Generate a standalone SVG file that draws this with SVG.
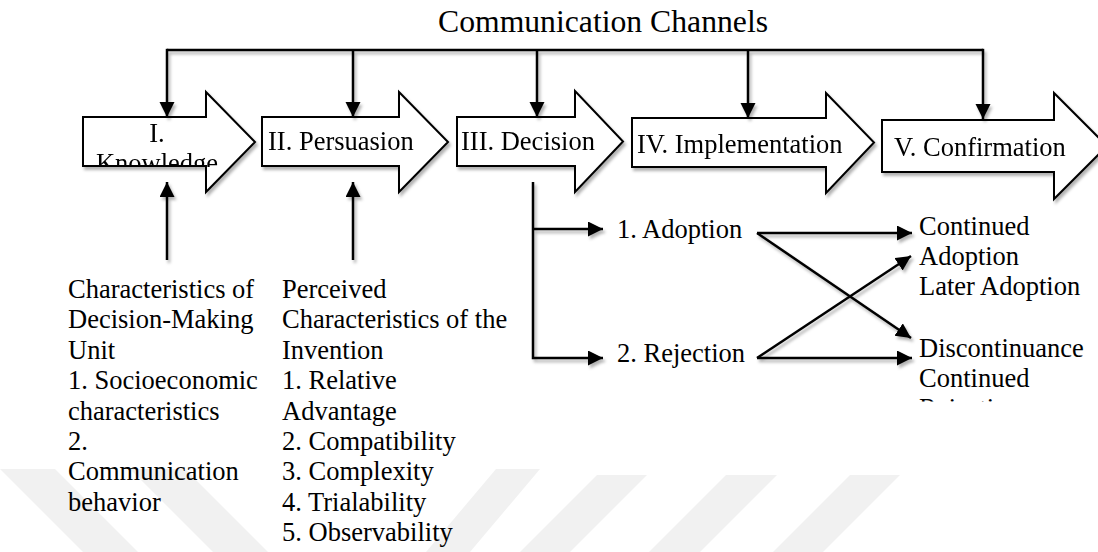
<svg xmlns="http://www.w3.org/2000/svg" width="1098" height="552" viewBox="0 0 1098 552">
<style>
.t{font-family:"Liberation Serif","Times New Roman",serif;font-size:26.5px;fill:#000}
.title{font-family:"Liberation Serif","Times New Roman",serif;font-size:31.7px;fill:#000}
.stage{fill:#fff;stroke:#000;stroke-width:2}
.wm{fill:#f1f1f1}
.c{fill:none;stroke:#000;stroke-width:2.5}
</style>
<defs>
<filter id="sh" x="-10%" y="-10%" width="130%" height="140%">
<feDropShadow dx="2" dy="3" stdDeviation="1.6" flood-color="#000" flood-opacity="0.3"/>
</filter>
<marker id="ah" markerUnits="userSpaceOnUse" markerWidth="16" markerHeight="16" refX="15" refY="7.5" orient="auto">
<path d="M0,0 L15,7.5 L0,15 z" fill="#000"/>
</marker>
<clipPath id="clipK"><rect x="83" y="92" width="175" height="75"/></clipPath>
<clipPath id="clipR"><rect x="900" y="372" width="198" height="29.5"/></clipPath>
</defs>
<rect width="1098" height="552" fill="#fff"/>
<g id="watermark">
<polygon class="wm" points="0,469 55,469 138,552 83,552"/>
<polygon class="wm" points="130,469 185,469 268,552 213,552"/>
<polygon class="wm" points="496,469 540,469 470,552 426,552"/>
<polygon class="wm" points="597,475 647,475 570,552 520,552"/>
<polygon class="wm" points="726,475 777,475 700,552 649,552"/>
<polygon class="wm" points="850,475 900,475 823,552 773,552"/>
</g>
<text id="title" class="title" x="438" y="32">Communication Channels</text>
<g id="stage1" filter="url(#sh)">
<polygon class="stage" points="83,117 206,117 206,92 255,142 206,192 206,166 83,166"/>
<g clip-path="url(#clipK)">
<text class="t" x="157" y="142" text-anchor="middle">I.</text>
<text class="t" x="157" y="171.5" text-anchor="middle">Knowledge</text>
</g>
</g>
<g id="stage2" filter="url(#sh)">
<polygon class="stage" points="262,117 399,117 399,92 448,142 399,192 399,166 262,166"/>
<text class="t" x="268" y="150">II. Persuasion</text>
</g>
<g id="stage3" filter="url(#sh)">
<polygon class="stage" points="457,117 575,117 575,91 623,141.5 575,192 575,166 457,166"/>
<text class="t" x="461" y="150">III. Decision</text>
</g>
<g id="stage4" filter="url(#sh)">
<polygon class="stage" points="632,118 826,118 826,93 874,142.5 826,193 826,167 632,167"/>
<text class="t" x="637" y="153">IV. Implementation</text>
</g>
<g id="stage5" filter="url(#sh)">
<polygon class="stage" points="882,120 1054,120 1054,93 1107,146 1054,199 1054,172 882,172"/>
<text class="t" x="894" y="156">V. Confirmation</text>
</g>
<g id="connectors" filter="url(#sh)">
<path class="c" d="M167,50 H983"/>
<path class="c" d="M167,48.8 V117" marker-end="url(#ah)"/>
<path class="c" d="M353,50 V117" marker-end="url(#ah)"/>
<path class="c" d="M537,50 V117" marker-end="url(#ah)"/>
<path class="c" d="M748,50 V118" marker-end="url(#ah)"/>
<path class="c" d="M983,48.8 V119" marker-end="url(#ah)"/>
<path class="c" d="M167,260 V182" marker-end="url(#ah)"/>
<path class="c" d="M353,260 V182" marker-end="url(#ah)"/>
<path class="c" d="M533,182 V358 H603" marker-end="url(#ah)"/>
<path class="c" d="M533,229 H603" marker-end="url(#ah)"/>
<path class="c" d="M757,233 H912" marker-end="url(#ah)"/>
<path class="c" d="M757,233 L911,338" marker-end="url(#ah)"/>
<path class="c" d="M757,358 H912" marker-end="url(#ah)"/>
<path class="c" d="M757,358 L911,256" marker-end="url(#ah)"/>
</g>
<g id="adoption"><text class="t" x="617" y="238">1. Adoption</text></g>
<g id="rejection"><text class="t" x="617" y="362">2. Rejection</text></g>
<g id="continued-adoption">
<text class="t" x="919" y="235">Continued</text>
<text class="t" x="919" y="265">Adoption</text>
<text class="t" x="919" y="295">Later Adoption</text>
</g>
<g id="discontinuance">
<text class="t" x="919" y="357">Discontinuance</text>
<text class="t" x="919" y="387">Continued</text>
<text class="t" x="919" y="417" clip-path="url(#clipR)">Rejection</text>
</g>
<g id="decision-unit">
<text class="t" x="68" y="298">Characteristics of<tspan x="68" dy="30.4">Decision-Making</tspan><tspan x="68" dy="30.4">Unit</tspan><tspan x="68" dy="30.4">1. Socioeconomic</tspan><tspan x="68" dy="30.4">characteristics</tspan><tspan x="68" dy="30.4">2.</tspan><tspan x="68" dy="30.4">Communication</tspan><tspan x="68" dy="30.4">behavior</tspan></text>
</g>
<g id="perceived">
<text class="t" x="282" y="298">Perceived<tspan x="282" dy="30.4">Characteristics of the</tspan><tspan x="282" dy="30.4">Invention</tspan><tspan x="282" dy="30.4">1. Relative</tspan><tspan x="282" dy="30.4">Advantage</tspan><tspan x="282" dy="30.4">2. Compatibility</tspan><tspan x="282" dy="30.4">3. Complexity</tspan><tspan x="282" dy="30.4">4. Trialability</tspan><tspan x="282" dy="30.4">5. Observability</tspan></text>
</g>
</svg>
